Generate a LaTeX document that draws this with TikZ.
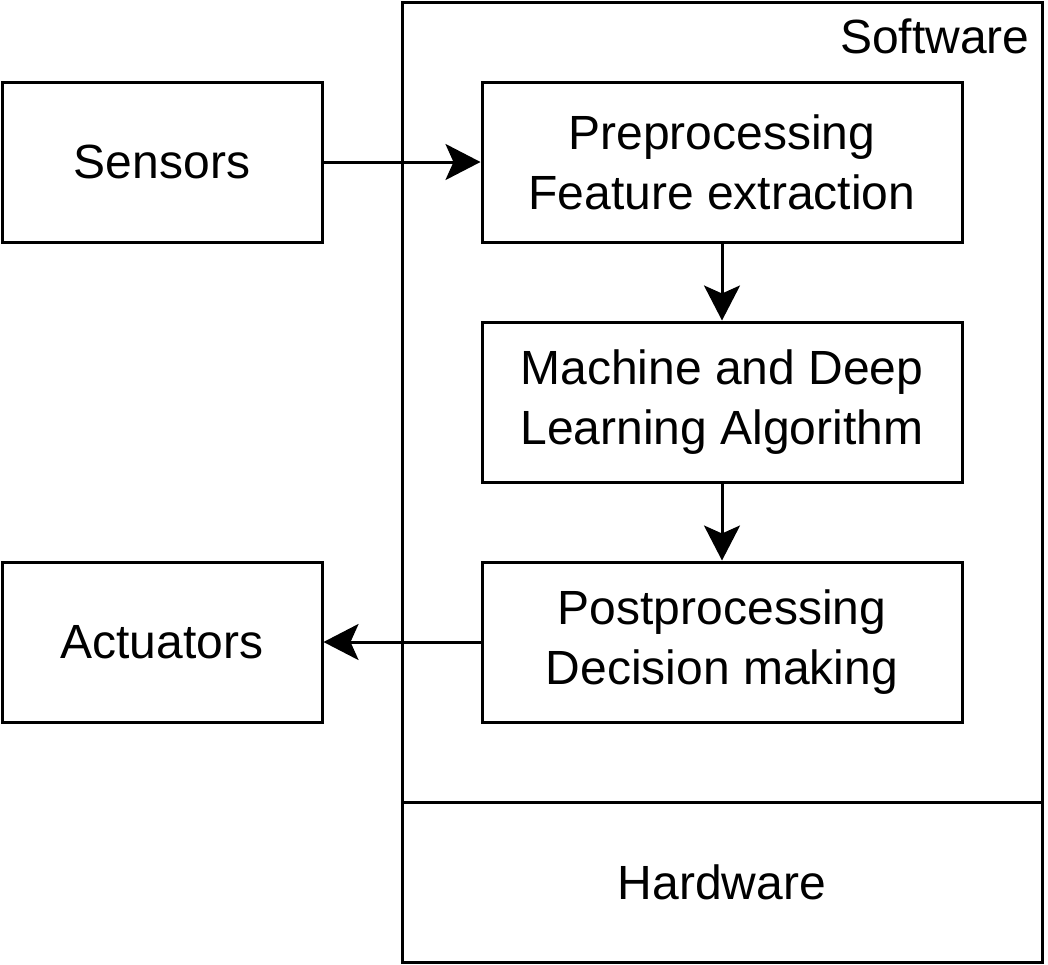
\documentclass[tikz,border=0pt]{standalone}
\usepackage{fontspec}
\setmainfont{Liberation Sans}
\usetikzlibrary{arrows.meta}
\tikzset{
  box/.style={draw, line width=1.5pt, minimum width=160pt, minimum height=80pt,
    align=center, inner sep=0pt, font=\fontsize{24}{30}\selectfont},
  widebox/.style={box, minimum width=240pt},
  flow/.style={line width=1.5pt, -{Stealth[length=17.5pt, width=18pt, inset=4pt]}}
}
\begin{document}
\begin{tikzpicture}[x=0.5pt, y=-0.5pt]
      \useasboundingbox (0,0) rectangle (1048,964);
      % outer layers
      \draw[line width=1.5pt] (402,2) rectangle (1042,802);
      \draw[line width=1.5pt] (402,802) rectangle (1042,962);
      \node[anchor=base east, inner sep=0pt, font=\fontsize{24}{30}\selectfont] (sw) at (1030,53) {Software};
      \node[inner sep=0pt, font=\fontsize{24}{30}\selectfont] (hw) at (722,882) {Hardware};
      % blocks
      \draw
        (162,162) node[box] (sens){Sensors}
        (722,162) node[widebox] (pre){Preprocessing\\Feature extraction}
        (722,402) node[widebox] (ml){Machine and Deep\\Learning Algorithm}
        (722,642) node[widebox] (post){Postprocessing\\Decision making}
        (162,642) node[box] (act){Actuators};
      \begin{scope}[flow]
        \draw (sens) to (pre);
        \draw (pre) to (ml);
        \draw (ml) to (post);
        \draw (post) to (act);
      \end{scope}
    \end{tikzpicture}
\end{document}
